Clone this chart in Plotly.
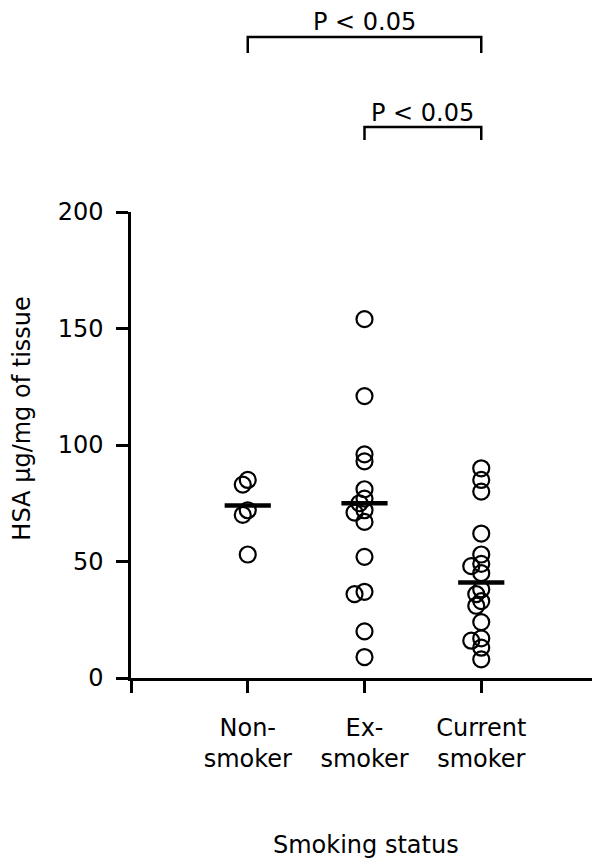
import plotly.graph_objects as go
import numpy as np

# groups and values
groups = ["Non-<br>smoker", "Ex-<br>smoker", "Current<br>smoker"]
non_smoker = [85, 83, 72, 70, 53]
ex_smoker = [154, 121, 96, 93, 81, 77, 75, 72, 71, 67, 52, 37, 36, 20, 9]
current_smoker = [90, 85, 80, 62, 53, 49, 48, 45, 38, 36, 33, 31, 24, 17, 16, 13, 8]
group_means = [74, 75, 41]
yticks = [0, 50, 100, 150, 200]
pvals = ["P < 0.05", "P < 0.05"]

FONT = "DejaVu Sans"
PX_X = 117.0   # pixels per category unit
PX_Y = 2.33    # pixels per y unit


def swarm(vals, step=5, mindist=6):
    # simple beeswarm: shift points sideways when they overlap
    placed = []
    offs = []
    for v in vals:
        for k in [0, -1, 1, -2, 2, -3, 3]:
            dx = k * step
            ok = all(np.hypot(dx - px, (v - pv) * PX_Y) >= mindist for px, pv in placed)
            if ok:
                break
        placed.append((dx, v))
        offs.append(dx / PX_X)
    return offs


fig = go.Figure()

for i, vals in enumerate([non_smoker, ex_smoker, current_smoker]):
    xs = [i + 1 + o for o in swarm(vals)]
    fig.add_trace(go.Scatter(
        x=xs, y=vals, mode="markers",
        marker=dict(symbol="circle-open", size=16, color="black", line=dict(width=2.2)),
        showlegend=False, cliponaxis=False))

fig.add_trace(go.Scatter(
    x=[1, 2, 3], y=group_means, mode="markers",
    marker=dict(symbol="line-ew", size=33, line=dict(width=4.5, color="black")),
    showlegend=False, cliponaxis=False))

# significance brackets (x in data, y in paper units above the plot)
brackets = [(1, 3, 1.3755, 1.341, 1.408), (2, 3, 1.1824, 1.1545, 1.212)]
for (a, b, ytop, ybot, ytxt), txt in zip(brackets, pvals):
    fig.add_shape(type="path", xref="x", yref="paper",
                  path=f"M {a},{ybot} L {a},{ytop} L {b},{ytop} L {b},{ybot}",
                  line=dict(color="black", width=2.5))
    fig.add_annotation(x=(a + b) / 2, y=ytxt, xref="x", yref="paper", text=txt,
                       showarrow=False, xanchor="center", yanchor="middle",
                       font=dict(family=FONT, size=24, color="black"))

fig.add_annotation(x=-0.234, y=0.556, xref="paper", yref="paper",
                   text="HSA µg/mg of tissue", textangle=-90, showarrow=False,
                   xanchor="center", yanchor="middle",
                   font=dict(family=FONT, size=24, color="black"))
fig.add_annotation(x=0.503, y=-0.358, xref="paper", yref="paper",
                   text="Smoking status", showarrow=False,
                   xanchor="center", yanchor="middle",
                   font=dict(family=FONT, size=24, color="black"))

fig.update_layout(
    width=600, height=866,
    margin=dict(l=123, r=10, t=204, b=196),
    plot_bgcolor="white", paper_bgcolor="white",
    font=dict(family=FONT, size=24, color="black"),
    xaxis=dict(range=[0, 4], tickvals=[0, 1, 2, 3], ticktext=[""] + groups,
               showline=True, linecolor="black", linewidth=2.5,
               ticks="outside", ticklen=12, tickwidth=2.5, tickcolor="black",
               ticklabelstandoff=14, showgrid=False, zeroline=False),
    yaxis=dict(range=[0, 200], tickvals=yticks,
               showline=True, linecolor="black", linewidth=2.5,
               ticks="outside", ticklen=12, tickwidth=2.5, tickcolor="black",
               ticklabelstandoff=8, showgrid=False, zeroline=False),
)

fig.write_html("out.html")
